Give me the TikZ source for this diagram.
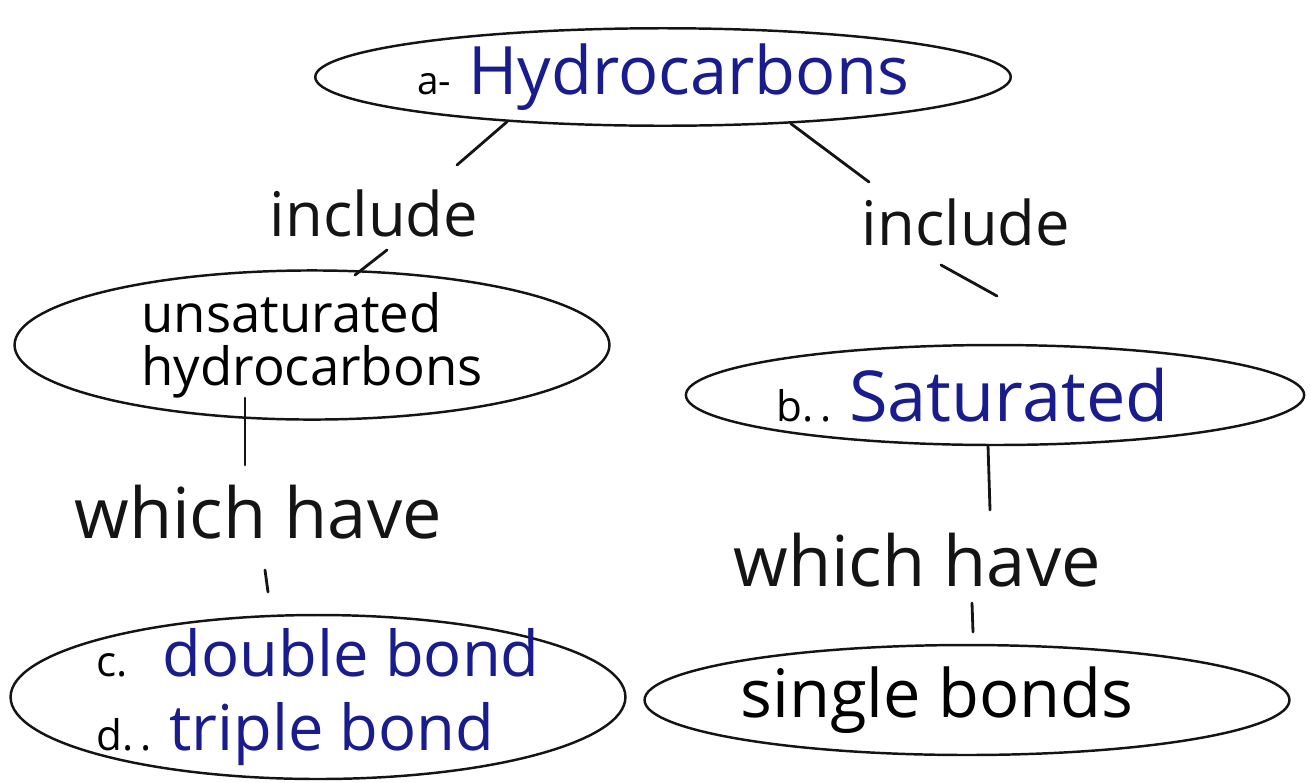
\documentclass[tikz,border=0pt]{standalone}
\usepackage{fontspec}
\setmainfont{Open Sans}
\usepackage{tikz}
\usepackage{xcolor}
\usetikzlibrary{shapes.geometric, positioning, calc}
\definecolor{cInk}{RGB}{25,28,140}
\definecolor{cPen}{RGB}{20,20,20}
\tikzset{
	concept/.style={ellipse, draw=cPen, line width=1.4pt, align=center, inner sep=0pt},
	verb/.style   ={inner sep=2pt, text=cPen, font=\fontsize{35}{38}\selectfont},
	link/.style   ={line width=1.6pt, cPen, line cap=round},
}
\begin{document}
\begin{tikzpicture}[x=0.02cm, y=-0.02cm]
			\useasboundingbox (0,0) rectangle (1311,782);
			% concepts
			\node[concept, minimum width=12.9cm, minimum height=1.95cm] (hc) at (663,77)
				{{\fontsize{22}{24}\selectfont a-}\quad\textcolor{cInk}{\fontsize{38}{40}\selectfont Hydrocarbons}};
			\node[concept, minimum width=11.9cm, minimum height=2.2cm, align=left, font=\fontsize{30}{30}\selectfont] (uh) at (312,345)
				{unsaturated\\hydrocarbons\hspace{2.2cm}};
			\node[concept, minimum width=12.2cm, minimum height=2cm] (sat) at (995,395)
				{{\fontsize{24}{26}\selectfont b.\,.}\quad\textcolor{cInk}{\fontsize{40}{42}\selectfont Saturated}\hspace{0.9cm}};
			\node[concept, minimum width=12.3cm, minimum height=3.1cm, inner sep=-6pt, align=left, font=\fontsize{36}{42}\selectfont] (bonds) at (318,697)
				{{\fontsize{24}{26}\selectfont c.}\;\;\textcolor{cInk}{double bond}\\
				 {\fontsize{24}{26}\selectfont d.\,.}\;\textcolor{cInk}{triple bond}};
			\node[concept, minimum width=12.9cm, minimum height=2.2cm, font=\fontsize{38}{40}\selectfont] (sb) at (967,700)
				{single bonds\hspace{1.2cm}};
			% linking words
			\node[verb] (inc1) at (374,213) {include};
			\node[verb] (inc2) at (966,222) {include};
			\node[verb, font=\fontsize{40}{42}\selectfont] (wh1) at (258,512) {which have};
			\node[verb, font=\fontsize{40}{42}\selectfont] (wh2) at (917,560) {which have};
			% links
			\draw[link] (hc.196) -- ([shift={(83,-48)}]inc1.center);
			\draw[link] ([shift={(13,37)}]inc1.center) -- ([shift={(43,-70)}]uh.center);
			\draw[link] (hc.-20) -- ([shift={(-97,-40)}]inc2.center);
			\draw[link] ([shift={(-25,43)}]inc2.center) -- ([shift={(2,-99)}]sat.center);
			\draw[link] ([shift={(-67,53)}]uh.center) -- ([shift={(-13,-47)}]wh1.center);
			\draw[link] ([shift={(7,58)}]wh1.center) -- ([shift={(-50,-105)}]bonds.center);
			\draw[link] ([shift={(-7,50)}]sat.center) -- ([shift={(73,-50)}]wh2.center);
			\draw[link] ([shift={(55,43)}]wh2.center) -- ([shift={(6,-68)}]sb.center);
		\end{tikzpicture}
\end{document}
